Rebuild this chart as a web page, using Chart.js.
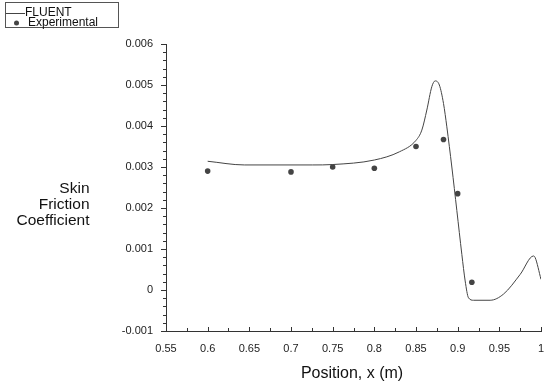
<!DOCTYPE html>
<html>
<head>
<meta charset="utf-8">
<script src="https://cdn.jsdelivr.net/npm/chart.js@4.4.1/dist/chart.umd.min.js"></script>
<style>
  html, body { margin: 0; padding: 0; background: #fff; }
  #wrap { width: 560px; height: 386px; position: relative; }
</style>
</head>
<body>
<div id="wrap"><canvas id="chart" width="560" height="386"></canvas></div>
<script>
// FLUENT skin friction curve
const fluentX = [0.6, 0.644, 0.7, 0.726, 0.75, 0.8, 0.83, 0.85, 0.857, 0.863, 0.869, 0.873, 0.878, 0.883, 0.887, 0.893, 0.899, 0.905, 0.909, 0.913, 0.919, 0.939, 0.955, 0.975, 0.991, 0.993, 1.0];
const fluentY = [0.00314, 0.00305, 0.00305, 0.00305, 0.00306, 0.00317, 0.00337, 0.00365, 0.0039, 0.00439, 0.00496, 0.0051, 0.005, 0.00455, 0.00398, 0.003, 0.00194, 0.00087, 0.00022, -0.00019, -0.00025, -0.00025, -0.0001, 0.00038, 0.00083, 0.00079, 0.00026];

// experimental points
const expX = [0.6, 0.7, 0.75, 0.8, 0.85, 0.883, 0.9, 0.917];
const expY = [0.0029, 0.00288, 0.003, 0.00297, 0.0035, 0.00367, 0.00235, 0.00019];

const xTicks = [0.55, 0.6, 0.65, 0.7, 0.75, 0.8, 0.85, 0.9, 0.95, 1];
const yTicks = [-0.001, 0, 0.001, 0.002, 0.003, 0.004, 0.005, 0.006];
const yTitleLines = ["Skin", "Friction", "Coefficient"];
const xTitle = "Position, x (m)";
const legendLabels = ["FLUENT", "Experimental"];

const INK = "#444";
const FONT = "'Liberation Sans', Arial, sans-serif";

const xyPairs = (xs, ys) => xs.map((x, i) => ({ x: x, y: ys[i] }));

// draws minor/major ticks, axis titles and the boxed legend
const decorations = {
    id: "decorations",
    afterDraw(chart) {
        const ctx = chart.ctx;
        const xs = chart.scales.x;
        const ys = chart.scales.y;
        const area = chart.chartArea;
        ctx.save();
        ctx.strokeStyle = "#333";
        ctx.lineWidth = 1;

        // y ticks: major every 0.001, minor every 0.0002, pointing left
        for (let i = -5; i <= 30; i++) {
            const v = i * 0.0002;
            const py = Math.round(ys.getPixelForValue(v)) + 0.5;
            const len = i % 5 === 0 ? 5 : 3;
            ctx.beginPath();
            ctx.moveTo(area.left - len, py);
            ctx.lineTo(area.left, py);
            ctx.stroke();
        }
        // x ticks: major every 0.05, minor every 0.025, pointing up
        for (let i = 0; i <= 18; i++) {
            const v = 0.55 + i * 0.025;
            const px = Math.round(xs.getPixelForValue(v)) + 0.5;
            const len = i % 2 === 0 ? 4 : 3;
            ctx.beginPath();
            ctx.moveTo(px, area.bottom);
            ctx.lineTo(px, area.bottom - len);
            ctx.stroke();
        }

        // y title, right aligned block
        ctx.fillStyle = "#111";
        ctx.font = "15.5px " + FONT;
        ctx.textAlign = "right";
        ctx.textBaseline = "alphabetic";
        yTitleLines.forEach((t, i) => ctx.fillText(t, 89.5, 193 + i * 16));

        // x title
        ctx.font = "16px " + FONT;
        ctx.textAlign = "center";
        ctx.fillText(xTitle, 352, 378);

        // legend box
        ctx.strokeStyle = "#555";
        ctx.strokeRect(5.5, 2.5, 113, 25);
        ctx.strokeStyle = INK;
        ctx.beginPath();
        ctx.moveTo(6, 13.5);
        ctx.lineTo(25, 13.5);
        ctx.stroke();
        ctx.fillStyle = INK;
        ctx.beginPath();
        ctx.arc(16.5, 23, 2.5, 0, Math.PI * 2);
        ctx.fill();
        ctx.fillStyle = "#111";
        ctx.font = "12px " + FONT;
        ctx.textAlign = "left";
        ctx.fillText(legendLabels[0], 25, 16);
        ctx.fillText(legendLabels[1], 28, 26);
        ctx.restore();
    }
};

new Chart(document.getElementById("chart"), {
    type: "scatter",
    data: {
        datasets: [
            {
                label: legendLabels[0],
                data: xyPairs(fluentX, fluentY),
                showLine: true,
                borderColor: INK,
                borderWidth: 1,
                pointRadius: 0,
                cubicInterpolationMode: "monotone",
            },
            {
                label: legendLabels[1],
                data: xyPairs(expX, expY),
                showLine: false,
                backgroundColor: INK,
                borderWidth: 0,
                pointRadius: 2.8,
            },
        ],
    },
    options: {
        responsive: false,
        animation: false,
        devicePixelRatio: 1,
        layout: { padding: { left: 0, top: 44, right: 19, bottom: 0 } },
        plugins: { legend: { display: false }, tooltip: { enabled: false } },
        scales: {
            x: {
                type: "linear",
                min: 0.55,
                max: 1,
                afterBuildTicks: (s) => { s.ticks = xTicks.map((v) => ({ value: v })); },
                afterFit: (s) => { s.height = 55; },
                grid: { display: false },
                border: { display: true, color: "#333", width: 1 },
                ticks: {
                    autoSkip: false,
                    padding: 3,
                    color: "#222",
                    font: { family: FONT, size: 11 },
                    maxRotation: 0,
                    callback: (v) => String(Math.round(v * 1000) / 1000),
                },
            },
            y: {
                type: "linear",
                min: -0.001,
                max: 0.006,
                afterBuildTicks: (s) => { s.ticks = yTicks.map((v) => ({ value: v })); },
                afterFit: (s) => { s.width = 166; },
                grid: { display: false },
                border: { display: true, color: "#333", width: 1 },
                ticks: {
                    autoSkip: false,
                    padding: 5,
                    color: "#222",
                    font: { family: FONT, size: 11 },
                    callback: (v) => String(Math.round(v * 10000) / 10000),
                },
            },
        },
    },
    plugins: [decorations],
});
</script>
</body>
</html>
